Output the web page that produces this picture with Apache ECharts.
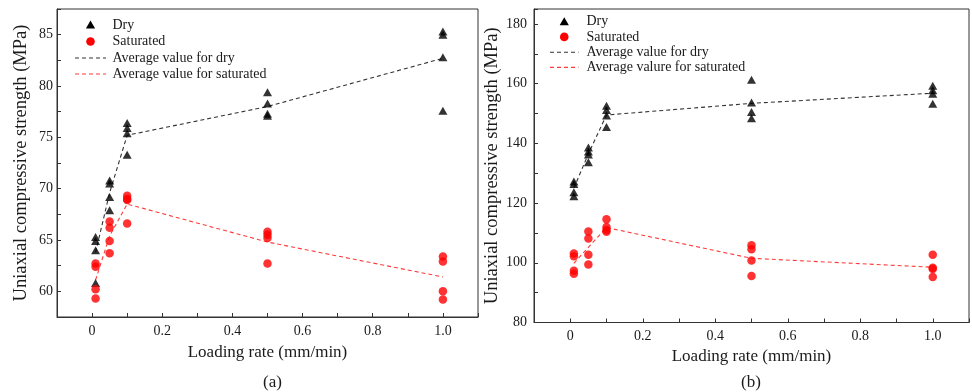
<!DOCTYPE html>
<html>
<head>
<meta charset="utf-8">
<script src="https://cdn.jsdelivr.net/npm/echarts@6/dist/echarts.min.js"></script>
<style>
html,body{margin:0;padding:0;background:#fff;}
#chart{width:972px;height:392px;}
</style>
</head>
<body>
<div id="chart"></div>
<script>
// ---- Data: panel (a) ----
const rateA = [0.01, 0.05, 0.1, 0.5, 1.0];
const dryA_001 = [65.3, 64.9, 64.0, 60.8];
const dryA_005 = [70.8, 70.5, 69.2, 67.9];
const dryA_010 = [76.4, 75.9, 75.4, 73.3];
const dryA_050 = [79.4, 78.3, 77.3, 77.1];
const dryA_100 = [85.3, 85.0, 82.8, 77.6];
const satA_001 = [62.7, 62.4, 60.2, 59.3];
const satA_005 = [66.8, 66.2, 64.9, 63.7];
const satA_010 = [69.3, 69.0, 68.9, 66.6];
const satA_050 = [65.8, 65.5, 65.2, 62.7];
const satA_100 = [63.4, 62.9, 60.0, 59.2];
const avgDryA = [63.8, 69.6, 75.2, 78.0, 82.7];
const avgSatA = [61.1, 65.4, 68.5, 64.8, 61.4];

// ---- Data: panel (b) ----
const rateB = [0.01, 0.05, 0.1, 0.5, 1.0];
const dryB_001 = [127.2, 126.4, 123.6, 122.3];
const dryB_005 = [138.6, 137.3, 136.3, 133.7];
const dryB_010 = [152.6, 151.2, 149.3, 145.5];
const dryB_050 = [161.3, 153.7, 150.5, 148.4];
const dryB_100 = [159.3, 157.8, 156.6, 153.3];
const satB_001 = [103.1, 102.2, 97.3, 96.3];
const satB_005 = [110.5, 108.1, 102.7, 99.4];
const satB_010 = [114.6, 112.0, 111.0, 110.4];
const satB_050 = [105.9, 104.5, 100.8, 95.6];
const satB_100 = [102.7, 98.3, 97.9, 95.2];
const avgDryB = [125.0, 136.5, 149.5, 153.4, 156.8];
const avgSatB = [99.8, 105.2, 111.8, 101.5, 98.5];

// tick label lists
const xTickLabels = ['0', '0.2', '0.4', '0.6', '0.8', '1.0'];
const yTickLabelsA = ['60', '65', '70', '75', '80', '85'];
const yTickLabelsB = ['80', '100', '120', '140', '160', '180'];

// legend texts
const legendA = ['Dry', 'Saturated', 'Average value for dry', 'Average value for saturated'];
const legendB = ['Dry', 'Saturated', 'Average value for dry', 'Average valure for saturated'];

function pairs(rates, groups) {
  const out = [];
  groups.forEach((g, i) => g.forEach(v => out.push([rates[i], v])));
  return out;
}
function linePairs(rates, vals) { return rates.map((r, i) => [r, vals[i]]); }

const FONT = 'Liberation Serif';
const TXT = '#1a1a1a';
const RED = '#ff0000';
const RED_LINE = '#ff3b3b';
const DARK_LINE = '#333';

function xAxis(gridIndex, nameGap) {
  return {
    type: 'value', gridIndex, min: -0.1, max: 1.1, interval: 0.1,
    name: 'Loading rate (mm/min)', nameLocation: 'middle', nameGap,
    nameTextStyle: {fontFamily: FONT, fontSize: 17, color: TXT},
    axisLine: {show: true, onZero: false, lineStyle: {color: '#333', width: 1}},
    axisTick: {show: true, inside: true, length: 4, lineStyle: {color: '#333'}},
    splitLine: {show: false},
    axisLabel: {
      interval: 0, margin: 7, fontFamily: FONT, fontSize: 14, color: TXT,
      formatter: function (v) {
        const k = Math.round(v * 10);
        if (k < 0 || k % 2 !== 0) return '';
        const s = k === 0 ? '0' : (k / 10).toFixed(1);
        return xTickLabels.indexOf(s) >= 0 ? s : '';
      }
    }
  };
}
function yAxis(gridIndex, min, max, interval, labels, nameGap, margin) {
  return {
    type: 'value', gridIndex, min, max, interval,
    name: 'Uniaxial compressive strength (MPa)', nameLocation: 'middle', nameGap,
    nameTextStyle: {fontFamily: FONT, fontSize: 18.5, color: TXT},
    axisLine: {show: true, onZero: false, lineStyle: {color: '#333', width: 1}},
    axisTick: {show: true, inside: true, length: 4, lineStyle: {color: '#333'}},
    splitLine: {show: false},
    axisLabel: {
      interval: 0, margin, fontFamily: FONT, fontSize: 14, color: TXT,
      formatter: function (v) {
        const s = String(Math.round(v * 100) / 100);
        return labels.indexOf(s) >= 0 ? s : '';
      }
    }
  };
}

// hand-drawn legend (symbol / dashed line + text), one per panel
function legendGraphic(texts, lineX0, lineX1, textX, rowsY) {
  const cx = (lineX0 + lineX1) / 2;
  const els = [];
  const r0 = rowsY[0], r1 = rowsY[1], r2 = rowsY[2], r3 = rowsY[3];
  els.push({type: 'polygon', silent: true, shape: {points: [[cx, r0 - 4.5], [cx + 4.6, r0 + 3.5], [cx - 4.6, r0 + 3.5]]}, style: {fill: '#000'}});
  els.push({type: 'circle', silent: true, shape: {cx: cx, cy: r1, r: 4.3}, style: {fill: RED}});
  els.push({type: 'line', silent: true, shape: {x1: lineX0, y1: r2, x2: lineX1, y2: r2}, style: {stroke: DARK_LINE, lineWidth: 1.1, lineDash: [4, 3]}});
  els.push({type: 'line', silent: true, shape: {x1: lineX0, y1: r3, x2: lineX1, y2: r3}, style: {stroke: RED_LINE, lineWidth: 1.1, lineDash: [4, 3]}});
  texts.forEach((t, i) => {
    els.push({type: 'text', silent: true, x: textX, y: rowsY[i],
      style: {text: t, font: '14px "Liberation Serif"', fill: TXT, textVerticalAlign: 'middle', verticalAlign: 'middle'}});
  });
  return els;
}

const option = {
  animation: false,
  backgroundColor: '#fff',
  grid: [
    {left: 57, top: 9, width: 421, height: 308, show: true, borderColor: '#333', borderWidth: 1, containLabel: false},
    {left: 534, top: 9, width: 437, height: 313.5, show: true, borderColor: '#333', borderWidth: 1, containLabel: false}
  ],
  xAxis: [xAxis(0, 27), xAxis(1, 17)],
  yAxis: [
    yAxis(0, 57.5, 87.5, 2.5, yTickLabelsA, 26, 4),
    yAxis(1, 80, 185, 10, yTickLabelsB, 22, 7)
  ],
  graphic: [
    {type: 'text', left: 263, top: 374, style: {text: '(a)', font: '17px "Liberation Serif"', fill: TXT}},
    {type: 'text', left: 741, top: 374, style: {text: '(b)', font: '17px "Liberation Serif"', fill: TXT}}
  ].concat(legendGraphic(legendA, 75, 106, 112.5, [25, 41.5, 58, 74]))
   .concat(legendGraphic(legendB, 550, 578.5, 586.5, [21.7, 36.9, 52.3, 67.4])),
  series: [
    {name: 'Average value for dry', type: 'line', xAxisIndex: 0, yAxisIndex: 0, symbol: 'none', z: 1,
      data: linePairs(rateA, avgDryA), lineStyle: {color: DARK_LINE, width: 1.1, type: [4, 3]}, itemStyle: {color: DARK_LINE}},
    {name: 'Average value for saturated', type: 'line', xAxisIndex: 0, yAxisIndex: 0, symbol: 'none', z: 1,
      data: linePairs(rateA, avgSatA), lineStyle: {color: RED_LINE, width: 1.1, type: [4, 3]}, itemStyle: {color: RED_LINE}},
    {name: 'Dry', type: 'scatter', xAxisIndex: 0, yAxisIndex: 0, symbol: 'triangle', symbolSize: [9, 8], z: 3,
      itemStyle: {color: '#000'}, data: pairs(rateA, [dryA_001, dryA_005, dryA_010, dryA_050, dryA_100])},
    {name: 'Saturated', type: 'scatter', xAxisIndex: 0, yAxisIndex: 0, symbol: 'circle', symbolSize: 8.5, z: 3,
      itemStyle: {color: RED}, data: pairs(rateA, [satA_001, satA_005, satA_010, satA_050, satA_100])},

    {name: 'Average value for dry', type: 'line', xAxisIndex: 1, yAxisIndex: 1, symbol: 'none', z: 1,
      data: linePairs(rateB, avgDryB), lineStyle: {color: DARK_LINE, width: 1.1, type: [4, 3]}, itemStyle: {color: DARK_LINE}},
    {name: 'Average valure for saturated', type: 'line', xAxisIndex: 1, yAxisIndex: 1, symbol: 'none', z: 1,
      data: linePairs(rateB, avgSatB), lineStyle: {color: RED_LINE, width: 1.1, type: [4, 3]}, itemStyle: {color: RED_LINE}},
    {name: 'Dry', type: 'scatter', xAxisIndex: 1, yAxisIndex: 1, symbol: 'triangle', symbolSize: [9, 8], z: 3,
      itemStyle: {color: '#000'}, data: pairs(rateB, [dryB_001, dryB_005, dryB_010, dryB_050, dryB_100])},
    {name: 'Saturated', type: 'scatter', xAxisIndex: 1, yAxisIndex: 1, symbol: 'circle', symbolSize: 8.5, z: 3,
      itemStyle: {color: RED}, data: pairs(rateB, [satB_001, satB_005, satB_010, satB_050, satB_100])}
  ]
};

const chart = echarts.init(document.getElementById('chart'), null, {renderer: 'canvas'});
chart.setOption(option);
</script>
</body>
</html>
